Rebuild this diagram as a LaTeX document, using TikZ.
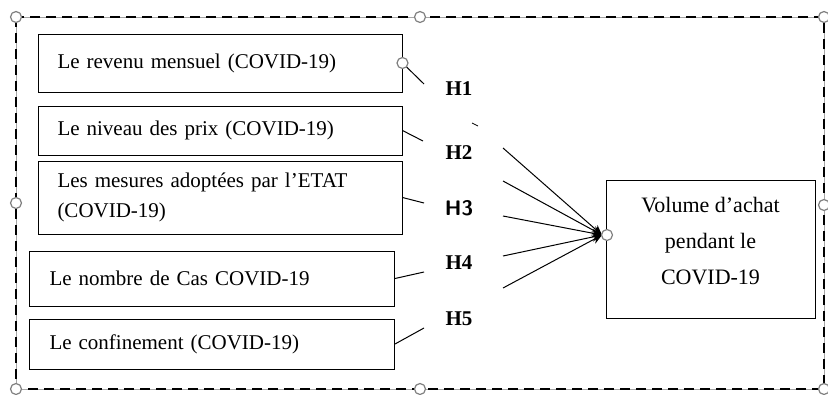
\documentclass[tikz,border=0pt]{standalone}
\usepackage{fontspec}
\setmainfont{Liberation Serif}
\usetikzlibrary{arrows.meta}

\begin{document}
\begin{tikzpicture}[
      x=1pt, y=-1pt,
      box/.style={draw, line width=1pt, minimum width=364pt, text width=325pt, align=left, inner xsep=19pt, font=\fontsize{21}{30}\selectfont},
      hyp/.style={font=\fontsize{21}{24}\selectfont\bfseries},
      stub/.style={line width=1pt},
      arrow/.style={line width=1pt, -{Stealth[length=10pt, width=9pt]}},
      handle/.style={circle, draw=gray, fill=white, line width=1.2pt, minimum size=11pt, inner sep=0pt}
    ]
      \useasboundingbox (0,0) rectangle (828,394);

      % frame
      \draw[gray!70, line width=0.6pt] (16,17) rectangle (824,389);
      \draw[line width=1.8pt, dash pattern=on 10pt off 6pt] (16,17) rectangle (824,389);

      \node[box, minimum height=58pt] (revenu) at (220,63) {Le revenu mensuel (COVID-19)};
      \node[box, minimum height=49pt] (prix) at (220,130.5) {Le niveau des prix (COVID-19)};
      \node[box, minimum height=73pt] (mesures) at (220,197.5) {Les mesures adoptées par l’ETAT\\(COVID-19)};
      \node[box, minimum height=55pt, inner xsep=20pt] (cas) at (212,278.5) {Le nombre de Cas COVID-19};
      \node[box, minimum height=50pt, inner xsep=20pt] (confin) at (212,344) {Le confinement (COVID-19)};
      \node[draw, line width=1pt, minimum width=209pt, minimum height=138pt, align=center, font=\fontsize{22}{36}\selectfont] (volume) at (710.5,249) {Volume d’achat\\pendant le\\COVID-19\\[-20pt]};

      \node[hyp] (h1) at (459,89) {H1};
      \node[hyp] (h2) at (459,153) {H2};
      \node[hyp, font=\fontsize{21}{24}\selectfont\sffamily\bfseries] (h3) at (459,208) {H3};
      \node[hyp] (h4) at (459,263) {H4};
      \node[hyp] (h5) at (459,319) {H5};

      \coordinate (s1) at (424,84);
      \coordinate (s2) at (423,141);
      \coordinate (s3) at (424,203);
      \coordinate (s4) at (424,272);
      \coordinate (s5) at (424,328);
      \coordinate (f1) at (503,148);
      \coordinate (f2) at (503,181);
      \coordinate (f3) at (503,216);
      \coordinate (f4) at (503,256);
      \coordinate (f5) at (503,288);
      \coordinate (tick) at (472,123);
      \coordinate (tip) at (602,235);

      \draw[stub] (revenu.east) -- (s1);
      \draw[stub] (prix.east) -- (s2);
      \draw[stub] (mesures.east) -- (s3);
      \draw[stub] (cas.east) -- (s4);
      \draw[stub] (confin.east) -- (s5);
      \draw[line width=0.8pt] (tick) -- ++(6,3);

      \draw[arrow] (f1) -- (tip);
      \draw[arrow] (f2) -- (tip);
      \draw[arrow] (f3) -- (tip);
      \draw[arrow] (f4) -- (tip);
      \draw[arrow] (f5) -- (tip);

      % selection handles
      \node[handle] at (revenu.east) {};
      \node[handle] at (607,235) {};
      \node[handle] at (16,17) {};
      \node[handle] at (420,17) {};
      \node[handle] at (824,17) {};
      \node[handle] at (16,203) {};
      \node[handle] at (824,205) {};
      \node[handle] at (16,389) {};
      \node[handle] at (420,389) {};
      \node[handle] at (824,389) {};
    \end{tikzpicture}
\end{document}
